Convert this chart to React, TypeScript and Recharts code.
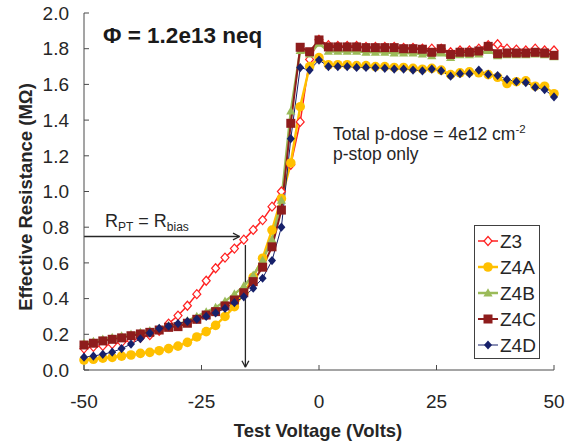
import React from 'react';
import { LineChart, Line, XAxis, YAxis, ReferenceLine } from 'recharts';

const voltages = [
  -50, -48, -46, -44, -42, -40, -38, -36, -34, -32, -30, -28, -26, -24, -22, -20, -18, -16, -14, -12, -10, -8, -6, -4, -2,
  0, 2, 4, 6, 8, 10, 12, 14, 16, 18, 20, 22, 24, 26, 28, 30, 32, 34, 36, 38, 40, 42, 44, 46, 48, 50,
];

const z3 = [
  0.12, 0.13, 0.135, 0.145, 0.155, 0.165, 0.18, 0.195, 0.22, 0.26, 0.305, 0.36, 0.425, 0.5, 0.57, 0.63, 0.68, 0.73, 0.785, 0.84, 0.915, 1.0, 1.15, 1.39, 1.74,
  1.85, 1.82, 1.815, 1.815, 1.815, 1.81, 1.81, 1.81, 1.81, 1.805, 1.805, 1.8, 1.8, 1.8, 1.78, 1.79, 1.79, 1.8, 1.82, 1.825, 1.8, 1.795, 1.79, 1.8, 1.79, 1.79,
];

const z4a = [
  0.056, 0.06, 0.066, 0.071, 0.078, 0.084, 0.093, 0.099, 0.108, 0.12, 0.134, 0.155, 0.185, 0.215, 0.25, 0.3, 0.355, 0.43, 0.52, 0.626, 0.784, 0.96, 1.16, 1.475, 1.7,
  1.75, 1.71, 1.71, 1.71, 1.705, 1.705, 1.7, 1.7, 1.695, 1.695, 1.69, 1.685, 1.69, 1.68, 1.655, 1.665, 1.67, 1.665, 1.655, 1.64, 1.605, 1.615, 1.62, 1.59, 1.59, 1.548,
];

const z4b = [
  0.15, 0.16, 0.172, 0.182, 0.19, 0.2, 0.21, 0.22, 0.232, 0.248, 0.255, 0.275, 0.3, 0.325, 0.35, 0.385, 0.425, 0.47, 0.53, 0.615, 0.73, 0.95, 1.45, 1.79, 1.77,
  1.83, 1.785, 1.785, 1.785, 1.785, 1.78, 1.78, 1.78, 1.775, 1.775, 1.775, 1.77, 1.76, 1.775, 1.75, 1.765, 1.765, 1.77, 1.79, 1.76, 1.765, 1.765, 1.765, 1.77, 1.765, 1.755,
];

const z4c = [
  0.14, 0.15, 0.163, 0.172, 0.18, 0.192, 0.202, 0.211, 0.224, 0.239, 0.243, 0.262, 0.284, 0.308, 0.327, 0.359, 0.392, 0.433, 0.495, 0.576, 0.69, 0.896, 1.382, 1.808, 1.783,
  1.849, 1.81, 1.81, 1.81, 1.81, 1.806, 1.806, 1.806, 1.806, 1.8, 1.8, 1.797, 1.78, 1.8, 1.768, 1.78, 1.78, 1.787, 1.813, 1.772, 1.776, 1.776, 1.776, 1.78, 1.776, 1.763,
];

const z4d = [
  0.072, 0.078, 0.088, 0.1, 0.12, 0.145, 0.175, 0.207, 0.233, 0.245, 0.26, 0.272, 0.285, 0.3, 0.32, 0.345, 0.377, 0.41, 0.458, 0.514, 0.613, 0.8, 1.296, 1.694, 1.68,
  1.736, 1.7, 1.7, 1.7, 1.695, 1.695, 1.693, 1.69, 1.686, 1.686, 1.68, 1.676, 1.686, 1.676, 1.646, 1.66, 1.66, 1.68, 1.656, 1.65, 1.628, 1.615, 1.61, 1.583, 1.57, 1.53,
];

const xTicks = [-50, -25, 0, 25, 50];
const yTicks = [0, 0.2, 0.4, 0.6, 0.8, 1.0, 1.2, 1.4, 1.6, 1.8, 2.0];

const series = [
  { name: 'Z3', values: z3, color: '#FF2121', width: 1.5, shape: 'openDiamond' },
  { name: 'Z4A', values: z4a, color: '#FFC000', width: 2.5, shape: 'circle' },
  { name: 'Z4B', values: z4b, color: '#9BBB59', width: 2.5, shape: 'triangle' },
  { name: 'Z4C', values: z4c, color: '#8E1C1C', width: 2, shape: 'square' },
  { name: 'Z4D', values: z4d, color: '#16206A', width: 1, shape: 'diamond' },
];

const data = voltages.map((v, i) => {
  const row: Record<string, number> = { v };
  series.forEach((s) => {
    row[s.name] = s.values[i];
  });
  return row;
});

const FONT = '"Liberation Sans", Arial, sans-serif';
const INK = '#262626';
const AXIS = '#4a4a4a';

const Marker = ({ shape, color, cx, cy }: { shape: string; color: string; cx: number; cy: number }) => {
  switch (shape) {
    case 'openDiamond':
      return (
        <polygon
          points={`${cx},${cy - 4.5} ${cx + 4},${cy} ${cx},${cy + 4.5} ${cx - 4},${cy}`}
          fill="#fff"
          stroke={color}
          strokeWidth={1.2}
        />
      );
    case 'circle':
      return <circle cx={cx} cy={cy} r={4.8} fill={color} />;
    case 'triangle':
      return <polygon points={`${cx},${cy - 4.8} ${cx + 4.6},${cy + 3.4} ${cx - 4.6},${cy + 3.4}`} fill={color} />;
    case 'square':
      return <rect x={cx - 4.5} y={cy - 4.5} width={9} height={9} fill={color} />;
    default:
      return <polygon points={`${cx},${cy - 4.6} ${cx + 4},${cy} ${cx},${cy + 4.6} ${cx - 4},${cy}`} fill={color} />;
  }
};

const arrow = { stroke: INK, strokeWidth: 1.3 };

const Legend = () => (
  <svg width={66} height={134} style={{ position: 'absolute', left: 474, top: 225 }}>
    <rect x={0.5} y={0.5} width={65} height={133} fill="#fff" stroke="#404040" strokeWidth={1} />
    {series.map((s, i) => {
      const cy = 16 + i * 26;
      return (
        <g key={s.name}>
          <line x1={4} x2={24} y1={cy} y2={cy} stroke={s.color} strokeWidth={s.width} />
          <Marker shape={s.shape} color={s.color} cx={14} cy={cy} />
          <text x={26} y={cy + 7} fontSize={19} fill={INK} fontFamily={FONT}>
            {s.name}
          </text>
        </g>
      );
    })}
  </svg>
);

export default function App() {
  return (
    <div style={{ position: 'absolute', left: 0, top: 0, width: 568, height: 442, background: '#fff' }}>
      <LineChart width={568} height={442} data={data} margin={{ top: 13, right: 14, bottom: 0, left: 0 }}>
        <XAxis
          dataKey="v"
          type="number"
          domain={[-50, 50]}
          ticks={xTicks}
          height={72}
          stroke={AXIS}
          tickSize={-5}
          tickMargin={30}
          tick={{ fontSize: 19, fill: INK, fontFamily: FONT }}
        />
        <YAxis
          type="number"
          domain={[0, 2]}
          ticks={yTicks}
          width={84}
          stroke={AXIS}
          tickSize={-5}
          tickMargin={20}
          tickFormatter={(t: number) => t.toFixed(1)}
          tick={{ fontSize: 19, fill: INK, fontFamily: FONT }}
        />
        <ReferenceLine segment={[{ x: -50, y: 0.748 }, { x: -16.9, y: 0.748 }]} {...arrow} />
        <ReferenceLine segment={[{ x: -16.9, y: 0.748 }, { x: -18.3, y: 0.767 }]} {...arrow} />
        <ReferenceLine segment={[{ x: -16.9, y: 0.748 }, { x: -18.3, y: 0.729 }]} {...arrow} />
        <ReferenceLine segment={[{ x: -15.66, y: 0.7 }, { x: -15.66, y: 0.016 }]} {...arrow} />
        <ReferenceLine segment={[{ x: -15.66, y: 0.016 }, { x: -16.4, y: 0.052 }]} {...arrow} />
        <ReferenceLine segment={[{ x: -15.66, y: 0.016 }, { x: -14.92, y: 0.052 }]} {...arrow} />
        {series.map((s) => (
          <Line
            key={s.name}
            dataKey={s.name}
            type="linear"
            stroke={s.color}
            strokeWidth={s.width}
            isAnimationActive={false}
            activeDot={false}
            dot={(p: any) => (
              <g key={`${s.name}-${p.index}`}>
                <Marker shape={s.shape} color={s.color} cx={p.cx} cy={p.cy} />
              </g>
            )}
          />
        ))}
      </LineChart>
      <svg width={568} height={442} style={{ position: 'absolute', left: 0, top: 0, pointerEvents: 'none' }}>
        <text x={103} y={43} fontSize={22.5} fontWeight="bold" fill="#1a1a1a" fontFamily={FONT}>
          Φ = 1.2e13 neq
        </text>
        <text x={333} y={139.5} fontSize={17.5} fill={INK} fontFamily={FONT}>
          Total p-dose = 4e12 cm
          <tspan fontSize={11.5} dy={-7}>-2</tspan>
        </text>
        <text x={333} y={159.5} fontSize={17.5} fill={INK} fontFamily={FONT}>
          p-stop only
        </text>
        <text x={105} y={227} fontSize={18} fill={INK} fontFamily={FONT}>
          R<tspan fontSize={12} dy={4}>PT</tspan>
          <tspan dy={-4}> = R</tspan>
          <tspan fontSize={12} dy={4}>bias</tspan>
        </text>
        <text
          x={318}
          y={437}
          fontSize={18.5}
          fontWeight="bold"
          fill={INK}
          fontFamily={FONT}
          textAnchor="middle"
        >
          Test Voltage (Volts)
        </text>
        <text
          x={31.5}
          y={197}
          fontSize={18.5}
          fontWeight="bold"
          fill={INK}
          fontFamily={FONT}
          textAnchor="middle"
          transform="rotate(-90 31.5 197)"
        >
          Effective Resistance (MΩ)
        </text>
      </svg>
      <Legend />
    </div>
  );
}
